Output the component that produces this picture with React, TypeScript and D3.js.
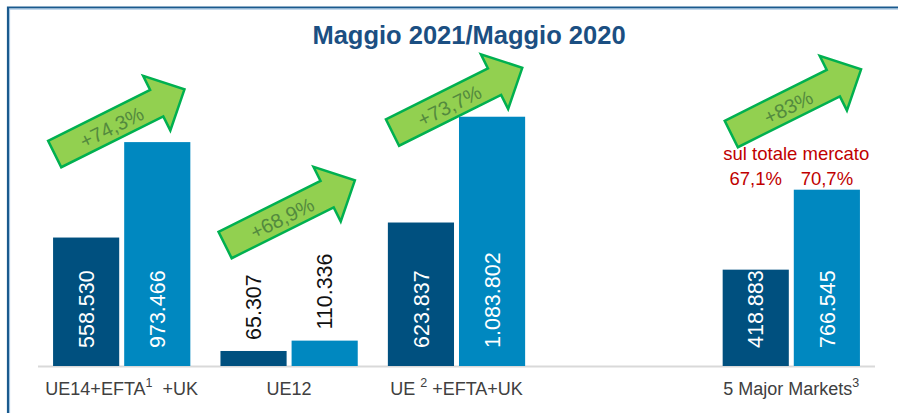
import React from "react";
import * as d3 from "d3";

// ---- data ----
const categoryNames = ["UE14+EFTA", "UE12", "UE ", "", "5 Major Markets"];
const categorySups = ["1", "", "2", "", "3"];
const categorySuffix = ["  +UK", "", " +EFTA+UK", "", ""];
const seriesNames = ["Maggio 2020", "Maggio 2021"];
const may2020 = [558530, 65307, 623837, null, 418883];
const may2021 = [973466, 110336, 1083802, null, 766545];
const growthLabels = ["+74,3%", "+68,9%", "+73,7%", null, "+83%"];
const shareTitle = "sul totale mercato";
const shareLabels = [null, null, null, null, ["67,1%", "70,7%"]];
const titleText = "Maggio 2021/Maggio 2020";

// ---- layout (annotation placement) ----
const ARROW_TAIL_Y = [154, 245, 132.5, null, 134];
const ARROW_TAIL_DX = [-67, -64, -64, 0, -60];

const W = 898;
const H = 413;
const BASE = 366;
const FONT = "Arial, 'Liberation Sans', Helvetica, sans-serif";
const DARK = "#00507f";
const LIGHT = "#0088c0";

const itFmt = d3.formatLocale({
  decimal: ",",
  thousands: ".",
  grouping: [3],
  currency: ["€", ""],
}).format(",d");

export default function App() {
  if (typeof document !== "undefined") {
    document.body.style.margin = "0";
  }
  const idx = d3.range(categoryNames.length);
  const x0 = d3
    .scaleBand<number>()
    .domain(idx)
    .range([38, 875])
    .paddingInner(0.18)
    .paddingOuter(0.09);
  const x1 = d3
    .scaleBand<string>()
    .domain(seriesNames)
    .range([0, x0.bandwidth()])
    .paddingInner(0.07);
  const y = d3.scaleLinear().domain([0, 1200000]).range([BASE, 90]);

  const series = [may2020, may2021];
  const colors = [DARK, LIGHT];
  const valueFont = 21.5;

  // arrow shape (local coords, pointing right)
  const L = 145, bw = 29.5, hw = 61, hl = 31;
  const arrowPath = d3.line()([
    [0, -bw / 2],
    [L - hl, -bw / 2],
    [L - hl, -hw / 2],
    [L, 0],
    [L - hl, hw / 2],
    [L - hl, bw / 2],
    [0, bw / 2],
  ]) + "Z";
  const angle = -26.5;

  return (
    <svg width={W} height={H} style={{ display: "block", fontFamily: FONT }}>
      <rect x={0} y={0} width={W} height={H} fill="#fff" />
      {/* frame */}
      <path d={`M8,${H} V7.5 H${W}`} fill="none" stroke="#1a5a8e" strokeWidth={2.2} />
      <path d={`M9.6,${H} V9.1 H${W}`} fill="none" stroke="#9cc0e0" strokeWidth={1} />

      {/* title */}
      <text
        x={469}
        y={43.5}
        textAnchor="middle"
        fontSize={25.5}
        fontWeight="bold"
        fill="#1b4f82"
      >
        {titleText}
      </text>

      {/* baseline */}
      <line x1={38} x2={875} y1={BASE + 0.5} y2={BASE + 0.5} stroke="#d9d9d9" strokeWidth={2} />

      {/* bars */}
      {idx.map((i) =>
        series.map((s, si) => {
          const v = s[i];
          if (v == null) return null;
          const bx = (x0(i) as number) + (x1(seriesNames[si]) as number);
          const by = y(v);
          const bwid = x1.bandwidth();
          const cx = bx + bwid / 2;
          const h = BASE - by;
          const inside = h > 80;
          return (
            <g key={`${i}-${si}`}>
              <rect x={bx} y={by} width={bwid} height={h} fill={colors[si]} />
              {inside ? (
                <text
                  transform={`translate(${cx + valueFont * 0.36},${BASE - 18}) rotate(-90)`}
                  fontSize={valueFont}
                  fill="#fff"
                  textAnchor="start"
                >
                  {itFmt(v)}
                </text>
              ) : (
                <text
                  transform={`translate(${cx + valueFont * 0.36},${by - 11}) rotate(-90)`}
                  fontSize={valueFont}
                  fill="#111"
                  textAnchor="start"
                >
                  {itFmt(v)}
                </text>
              )}
            </g>
          );
        })
      )}

      {/* category labels */}
      {idx.map((i) => {
        if (!categoryNames[i]) return null;
        const cx = (x0(i) as number) + x0.bandwidth() / 2;
        return (
          <text
            key={`cat-${i}`}
            x={cx}
            y={395}
            textAnchor="middle"
            fontSize={18}
            fill="#404040"
            style={{ whiteSpace: "pre" }}
          >
            <tspan>{categoryNames[i]}</tspan>
            {categorySups[i] ? (
              <tspan fontSize={12.5} dy={-8}>
                {categorySups[i]}
              </tspan>
            ) : null}
            {categorySuffix[i] ? <tspan dy={categorySups[i] ? 8 : 0}>{categorySuffix[i]}</tspan> : null}
          </text>
        );
      })}

      {/* market share annotation */}
      {idx.map((i) => {
        const sl = shareLabels[i];
        if (!sl) return null;
        const gx = x0(i) as number;
        return (
          <g key={`share-${i}`} fill="#c00000" fontSize={18.5} textAnchor="middle">
            <text x={gx + x0.bandwidth() / 2 + 5} y={160}>
              {shareTitle}
            </text>
            {sl.map((t, si) => (
              <text
                key={si}
                x={gx + (x1(seriesNames[si]) as number) + x1.bandwidth() / 2}
                y={185}
              >
                {t}
              </text>
            ))}
          </g>
        );
      })}

      {/* growth arrows */}
      {idx.map((i) => {
        const g = growthLabels[i];
        const ty = ARROW_TAIL_Y[i];
        if (!g || ty == null) return null;
        const tx = (x0(i) as number) + x0.bandwidth() / 2 + ARROW_TAIL_DX[i];
        return (
          <g key={`arrow-${i}`} transform={`translate(${tx},${ty}) rotate(${angle})`}>
            <path d={arrowPath} fill="#92d050" stroke="#00b050" strokeWidth={2.5} strokeLinejoin="miter" />
            <text
              x={63}
              y={1.5}
              dy="0.35em"
              textAnchor="middle"
              fontSize={20}
              fill="#538a3e"
            >
              {g}
            </text>
          </g>
        );
      })}
    </svg>
  );
}
